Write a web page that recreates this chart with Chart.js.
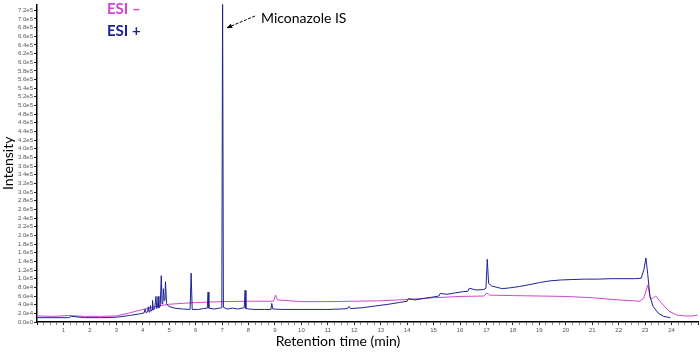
<!DOCTYPE html>
<html>
<head>
<meta charset="utf-8">
<script src="https://cdn.jsdelivr.net/npm/chart.js@4.4.0/dist/chart.umd.min.js"></script>
<style>
	html, body { margin: 0; padding: 0; background: #fff; }
	#wrap { width: 700px; height: 352px; }
</style>
</head>
<body>
<div id="wrap"><canvas id="chart"></canvas></div>
<script>
// ESI+ trace (retention time in min, intensity in counts)
const esiPlusTime = [
	0, 0.6, 1.2, 1.3, 1.8, 2.4, 3.0, 3.5, 3.9,
	4.05, 4.09, 4.13, 4.18, 4.21, 4.24, 4.27, 4.29, 4.32, 4.35, 4.37, 4.40,
	4.45, 4.50, 4.53, 4.56, 4.58, 4.61, 4.66, 4.70, 4.73, 4.76, 4.78, 4.81,
	4.84, 4.86, 4.90, 4.98, 5.2, 5.5, 5.79, 5.83, 5.87, 6.1, 6.3, 6.44, 6.47,
	6.50, 6.7, 6.9, 6.99, 7.02, 7.05, 7.2, 7.4, 7.6, 7.84, 7.87, 7.90, 8.2,
	8.6, 8.85, 8.88, 8.92, 9.3, 9.8, 10.4, 11.0, 11.5, 11.75, 11.8, 11.86,
	12.3, 12.8, 13.3, 13.7, 14.0, 14.05, 14.3, 14.6, 14.9, 15.2, 15.25, 15.5,
	15.8, 16.1, 16.3, 16.35, 16.6, 16.9, 16.98, 17.03, 17.08, 17.2, 17.4, 17.6,
	17.9, 18.25, 18.6, 19.0, 19.4, 19.8, 20.2, 20.7, 21.2, 21.7, 22.2, 22.6,
	22.85, 22.95, 23.03, 23.1, 23.18, 23.3, 23.5, 23.7, 23.95
];
const esiPlusIntensity = [
	10000, 10000, 10000, 13000, 10000, 10000, 11000, 15000, 19000,
	21000, 30000, 21000, 23000, 35000, 23000, 25000, 38000, 25000, 28000, 50000, 28000,
	30000, 59000, 31000, 35000, 59000, 33000, 36000, 107000, 42000, 45000, 77000, 50000,
	52000, 93000, 43000, 36000, 32000, 30000, 29000, 113000, 29000, 29000, 31000, 32000, 69000,
	32000, 30000, 32000, 33000, 760000, 34000, 30000, 32000, 30000, 33000, 73000, 31000, 29000,
	29000, 29000, 43000, 30000, 29000, 29000, 29000, 29000, 30000, 31000, 36000, 31000,
	33000, 37000, 41000, 45000, 48000, 54000, 51000, 54000, 57000, 60000, 66000, 64000,
	67000, 70000, 71000, 78000, 74000, 75000, 78000, 145000, 89000, 83000, 80000, 77000,
	79000, 82000, 86000, 91000, 95000, 97000, 98000, 99000, 99000, 100000, 100000, 100000,
	101000, 120000, 148000, 110000, 60000, 36000, 20000, 13000, 10000
];

// ESI- trace
const esiMinusTime = [
	0, 0.6, 1.2, 1.8, 2.4, 3.0, 3.5, 4.0, 4.5, 5.0, 5.5, 6.0, 7.0, 8.0,
	8.95, 9.02, 9.1, 10.0, 11.0, 12.0, 13.0, 14.0, 15.0, 16.0, 16.9, 17.02,
	17.12, 18.0, 19.0, 20.0, 21.0, 22.0, 22.8, 22.95, 23.1, 23.2, 23.28, 23.4,
	23.6, 23.9, 24.2, 24.5, 24.8, 24.95, 25.0
];
const esiMinusIntensity = [
	14000, 13000, 15000, 13000, 13000, 14000, 21000, 29000, 36000, 41000, 43000, 45000, 47000, 48000,
	48000, 62000, 51000, 47000, 47000, 48000, 49000, 52000, 56000, 59000, 60000, 67000,
	62000, 61000, 60000, 59000, 56000, 51000, 48000, 55000, 85000, 56000, 54000, 60000,
	45000, 25000, 16000, 14000, 14000, 16000, 15000
];

const yMax = 733000;
const yStep = 20000;
const yTickCount = 37; // 0.0e0 .. 7.2e5
const peakLabel = 'Miconazole IS';
const peakTime = 7.02;

function toPoints(times, values) {
	return times.map((t, i) => ({ x: t, y: values[i] }));
}

const annotations = {
	id: 'annotations',
	afterDraw(chart) {
		const ctx = chart.ctx;
		const xs = chart.scales.x;
		ctx.save();
		ctx.textBaseline = 'middle';
		ctx.textAlign = 'left';
		ctx.font = 'bold 15px Lato';
		ctx.fillStyle = '#d244d2';
		ctx.fillText('ESI \u2013', 107, 9);
		ctx.fillStyle = '#1e2296';
		ctx.fillText('ESI +', 107, 31);

		ctx.font = '14px Lato';
		ctx.fillStyle = '#000';
		ctx.fillText(peakLabel, 261, 18);

		// arrow to the IS peak
		const tipX = xs.getPixelForValue(peakTime) + 4;
		const tipY = 28;
		ctx.strokeStyle = '#000';
		ctx.lineWidth = 1;
		ctx.setLineDash([3, 1.5]);
		ctx.beginPath();
		ctx.moveTo(255, 16);
		ctx.lineTo(tipX, tipY);
		ctx.stroke();
		ctx.setLineDash([]);
		const ang = Math.atan2(tipY - 16, tipX - 255);
		ctx.beginPath();
		ctx.moveTo(tipX, tipY);
		ctx.lineTo(tipX - 6 * Math.cos(ang - 0.4), tipY - 6 * Math.sin(ang - 0.4));
		ctx.lineTo(tipX - 6 * Math.cos(ang + 0.4), tipY - 6 * Math.sin(ang + 0.4));
		ctx.closePath();
		ctx.fillStyle = '#000';
		ctx.fill();

		ctx.font = '14px Lato';
		ctx.textAlign = 'center';
		ctx.fillText('Retention time (min)', 338, 341);
		ctx.restore();
	}
};

new Chart(document.getElementById('chart'), {
	type: 'line',
	data: {
		datasets: [
		{
			label: 'ESI +',
			data: toPoints(esiPlusTime, esiPlusIntensity),
			borderColor: '#1e2296',
			borderWidth: 1,
			pointRadius: 0,
			tension: 0
		}, {
			label: 'ESI -',
			data: toPoints(esiMinusTime, esiMinusIntensity),
			borderColor: '#d244d2',
			borderWidth: 1,
			pointRadius: 0,
			tension: 0
		}]
	},
	options: {
		responsive: true,
		maintainAspectRatio: false,
		animation: false,
		layout: { padding: 0 },
		plugins: {
			legend: { display: false },
			tooltip: { enabled: false }
		},
		scales: {
			x: {
				type: 'linear',
				min: 0,
				max: 25,
				afterFit: s => { s.height = 30; },
				border: { display: true, color: '#000', width: 1.5 },
				grid: {
					drawOnChartArea: false,
					drawTicks: true,
					tickLength: 3,
					tickColor: c => Number.isInteger(c.tick.value) ? '#222' : '#888'
				},
				ticks: {
					stepSize: 0.25,
					autoSkip: false,
					maxRotation: 0,
					padding: 2,
					color: '#555',
					font: { size: 6, family: 'Liberation Sans' },
					callback: v => (Number.isInteger(v) && v > 0 && v < 25) ? String(v) : ''
				}
			},
			y: {
				min: 0,
				max: yMax,
				afterFit: s => { s.width = 37; },
				afterBuildTicks: s => {
					const ticks = [];
					for (let i = 0; i < yTickCount; i++) ticks.push({ value: i * yStep });
					s.ticks = ticks;
				},
				border: { display: true, color: '#000', width: 1.5 },
				grid: { drawOnChartArea: false, drawTicks: true, tickLength: 3, tickColor: '#222' },
				title: {
					display: true,
					text: 'Intensity',
					color: '#000',
					padding: 0,
					font: { size: 14, family: 'Lato' }
				},
				ticks: {
					autoSkip: false,
					padding: 1,
					color: '#555',
					font: { size: 6, family: 'Liberation Sans' },
					callback: v => v.toExponential(1).replace('+', '')
				}
			}
		}
	},
	plugins: [annotations]
});
</script>
</body>
</html>
